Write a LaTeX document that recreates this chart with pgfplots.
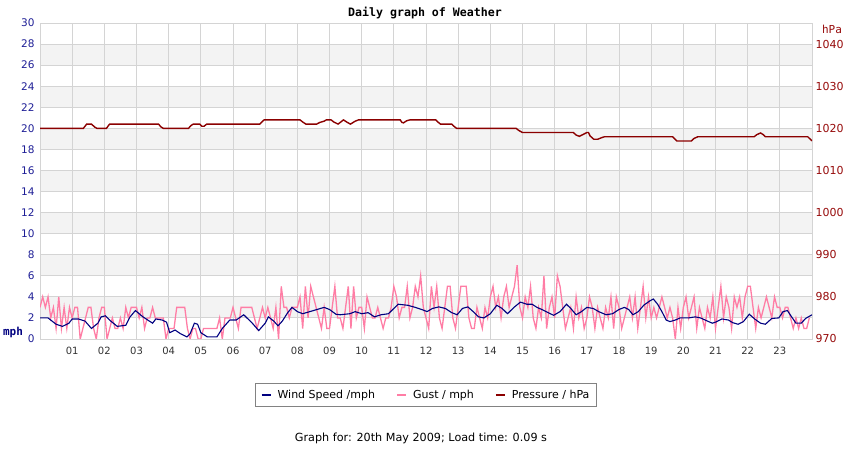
\documentclass[border=0pt]{standalone}
\usepackage{pgfplots}
\pgfplotsset{compat=1.18}
\usepackage{fontspec}
\setmainfont{DejaVu Sans}
\setmonofont{DejaVu Sans Mono}
\definecolor{tickblue}{RGB}{30,30,150}
\definecolor{windnavy}{RGB}{0,0,128}
\definecolor{gustpink}{RGB}{255,125,165}
\definecolor{presred}{RGB}{139,0,0}
\definecolor{labred}{RGB}{150,10,10}
\definecolor{gridgray}{RGB}{212,212,212}
\definecolor{bandgray}{RGB}{243,243,243}
\definecolor{legframe}{RGB}{130,130,130}
\begin{document}
\begin{tikzpicture}[x=1bp,y=1bp]
\useasboundingbox (0,0) rectangle (850,450);
% alternating bands (left axis units 2-4, 6-8, ... 26-28)
\foreach \v in {2,6,10,14,18,22,26} {
  \fill[bandgray] (40,{111+\v*316/30}) rectangle (812,{111+(\v+2)*316/30});
}
\begin{axis}[
  at={(40bp,111bp)}, anchor=south west, scale only axis,
  width=772bp, height=316bp,
  xmin=0, xmax=1440, ymin=0, ymax=30,
  xtick={60,120,...,1380},
  xticklabels={01,02,03,04,05,06,07,08,09,10,11,12,13,14,15,16,17,18,19,20,21,22,23},
  ytick={0,2,...,30},
  grid=major,
  major grid style={draw=gridgray, line width=0.9bp},
  axis line style={draw=gridgray, line width=0.9bp},
  major tick length=0pt,
  /pgf/number format/assume math mode=true,
  yticklabel style={font=\fontsize{10.5bp}{12bp}\selectfont, text=tickblue, xshift=-2bp},
  xticklabel style={font=\fontsize{10bp}{12bp}\selectfont, text=black!80, yshift=-5bp},
  legend columns=3,
  legend style={at={(0.5,-0.177)}, anchor=center, draw=legframe, line width=0.8bp,
    font=\fontsize{11bp}{13bp}\selectfont, inner xsep=5bp, inner ysep=4.5bp,
    /tikz/every odd column/.append style={column sep=4bp},
    /tikz/every even column/.append style={column sep=19bp}},
  legend image code/.code={\draw[#1, line width=2bp] (0bp,0bp) -- (9bp,0bp);},
]
\addplot[gustpink, line width=1.3bp, forget plot] coordinates {
(0,3)(5,4)(10,3)(15,4)(20,2)(25,3)(30,1)(35,4)(40,1)(45,3)(50,1)(55,3)
(60,2)(65,3)(70,3)(75,0)(80,1)(85,2)(90,3)(95,3)(100,1)(105,0)(110,2)(115,3)
(120,3)(125,0)(130,1)(135,2)(140,1)(145,1)(150,2)(155,1)(160,3)(165,2)(170,3)(175,3)
(180,3)(185,2)(190,3)(195,1)(200,2)(205,2)(210,3)(215,2)(220,2)(225,2)(230,2)(235,0)
(240,1)(245,1)(250,1)(255,3)(260,3)(265,3)(270,3)(275,1)(280,0)(285,1)(290,1)(295,0)
(300,0)(305,1)(310,1)(315,1)(320,1)(325,1)(330,1)(335,2)(340,0)(345,2)(350,2)(355,2)
(360,3)(365,2)(370,1)(375,3)(380,3)(385,3)(390,3)(395,3)(400,2)(405,1)(410,2)(415,3)
(420,2)(425,3)(430,2)(435,1)(440,3)(445,0)(450,5)(455,3)(460,3)(465,2)(470,3)(475,3)
(480,3)(485,4)(490,1)(495,5)(500,2)(505,5)(510,4)(515,3)(520,2)(525,1)(530,3)(535,1)
(540,1)(545,3)(550,5)(555,2)(560,2)(565,1)(570,3)(575,5)(580,1)(585,5)(590,2)(595,3)
(600,3)(605,1)(610,4)(615,3)(620,2)(625,2)(630,3)(635,2)(640,1)(645,2)(650,2)(655,3)
(660,5)(665,4)(670,2)(675,3)(680,3)(685,5)(690,2)(695,3)(700,5)(705,4)(710,6)(715,3)
(720,2)(725,1)(730,5)(735,3)(740,5)(745,2)(750,1)(755,3)(760,5)(765,5)(770,2)(775,1)
(780,3)(785,5)(790,5)(795,5)(800,2)(805,1)(810,1)(815,3)(820,2)(825,1)(830,3)(835,2)
(840,4)(845,5)(850,3)(855,4)(860,2)(865,4)(870,5)(875,3)(880,4)(885,5)(890,7)(895,3)
(900,2)(905,4)(910,3)(915,5)(920,2)(925,1)(930,3)(935,2)(940,6)(945,1)(950,3)(955,4)
(960,2)(965,6)(970,5)(975,3)(980,1)(985,2)(990,3)(995,1)(1000,4)(1005,2)(1010,3)(1015,1)
(1020,2)(1025,4)(1030,3)(1035,1)(1040,3)(1045,2)(1050,1)(1055,3)(1060,2)(1065,4)(1070,1)(1075,4)
(1080,3)(1085,1)(1090,2)(1095,3)(1100,4)(1105,2)(1110,4)(1115,1)(1120,3)(1125,5)(1130,2)(1135,4)
(1140,2)(1145,3)(1150,2)(1155,3)(1160,4)(1165,3)(1170,2)(1175,3)(1180,2)(1185,0)(1190,3)(1195,1)
(1200,3)(1205,4)(1210,2)(1215,3)(1220,4)(1225,1)(1230,3)(1235,2)(1240,1)(1245,3)(1250,2)(1255,4)
(1260,1)(1265,3)(1270,5)(1275,2)(1280,4)(1285,3)(1290,1)(1295,4)(1300,3)(1305,4)(1310,2)(1315,4)
(1320,5)(1325,5)(1330,3)(1335,1)(1340,3)(1345,2)(1350,3)(1355,4)(1360,3)(1365,2)(1370,4)(1375,3)
(1380,3)(1385,2)(1390,3)(1395,3)(1400,2)(1405,1)(1410,2)(1415,1)(1420,2)(1425,1)(1430,1)(1435,2)
};
\addplot[windnavy, line width=1.1bp, forget plot] coordinates {
(0,2.0)(15,2.0)(30,1.4)(42,1.2)(54,1.5)(60,1.9)(72,1.9)(84,1.7)(96,1.0)(108,1.5)
(114,2.1)(122,2.2)(132,1.7)(144,1.2)(160,1.3)(168,2.1)(178,2.7)(192,2.1)(204,1.7)(210,1.5)
(216,1.9)(228,1.8)(236,1.6)(242,0.6)(252,0.85)(262,0.5)(274,0.2)(280,0.5)(288,1.5)(294,1.4)
(300,0.6)(312,0.2)(330,0.2)(340,1.0)(354,1.8)(366,1.8)(380,2.3)(396,1.5)(408,0.8)(420,1.5)
(426,2.1)(436,1.7)(444,1.25)(452,1.7)(462,2.5)(470,3.0)(480,2.6)(490,2.4)(510,2.7)(530,3.0)
(540,2.8)(552,2.35)(560,2.3)(578,2.4)(588,2.6)(600,2.4)(612,2.5)(624,2.1)(636,2.3)(650,2.4)
(660,2.9)(668,3.3)(686,3.2)(700,3.0)(712,2.8)(722,2.6)(732,2.9)(744,3.05)(756,2.9)(768,2.5)
(778,2.3)(788,2.9)(798,3.05)(808,2.6)(818,2.1)(828,2.0)(840,2.4)(852,3.2)(862,2.9)(872,2.4)
(884,3.0)(896,3.5)(908,3.3)(918,3.3)(927,3.0)(936,2.8)(948,2.5)(958,2.25)(970,2.6)(982,3.3)
(990,2.9)(1000,2.3)(1010,2.6)(1020,3.0)(1032,2.9)(1042,2.6)(1056,2.3)(1068,2.4)(1080,2.8)(1090,3.0)
(1098,2.8)(1106,2.3)(1116,2.6)(1126,3.2)(1137,3.6)(1144,3.8)(1152,3.3)(1160,2.6)(1168,1.8)(1175,1.65)
(1185,1.8)(1194,2.0)(1210,2.0)(1222,2.1)(1232,2.0)(1245,1.7)(1254,1.5)(1260,1.6)(1272,1.9)(1284,1.8)
(1292,1.55)(1302,1.4)(1312,1.65)(1323,2.35)(1333,1.9)(1344,1.5)(1353,1.4)(1365,1.95)(1378,2.0)(1386,2.6)
(1394,2.7)(1402,2.1)(1410,1.5)(1420,1.5)(1428,1.95)(1440,2.3)
};
\addlegendimage{windnavy}
\addlegendentry{Wind Speed /mph}
\addlegendimage{gustpink}
\addlegendentry{Gust / mph}
\addlegendimage{presred}
\addlegendentry{Pressure / hPa}
\end{axis}
\begin{axis}[
  at={(40bp,111bp)}, anchor=south west, scale only axis,
  width=772bp, height=316bp,
  xmin=0, xmax=1440, ymin=970, ymax=1045,
  axis x line=none, axis y line*=right,
  y axis line style={draw=none},
  ytick={970,980,...,1040},
  major tick length=0pt,
  /pgf/number format/assume math mode=true,
  /pgf/number format/set thousands separator={},
  yticklabel style={font=\fontsize{11bp}{12bp}\selectfont, text=labred},
]
\addplot[presred, line width=1.4bp] coordinates {
(0,1020)(81,1020)(87,1021)(96,1021)(102,1020.3)(106,1020)(124,1020)(128,1020.7)(130,1021)
(221,1021)(226,1020.3)(230,1020)(277,1020)(282,1020.7)(286,1021)(298,1021)(302,1020.5)(306,1020.5)(311,1021)
(410,1021)(414,1021.5)(418,1022)(485,1022)(490,1021.5)(496,1021)(516,1021)(522,1021.4)(530,1021.7)(534,1022)
(543,1022)(548,1021.5)(556,1021)(566,1022)(572,1021.5)(579,1021)(588,1021.7)(594,1022)
(672,1022)(675,1021.4)(678,1021.3)(684,1021.8)(690,1022)(738,1022)(742,1021.5)(747,1021)
(768,1021)(772,1020.5)(777,1020)(888,1020)(893,1019.5)(900,1019)(995,1019)(1000,1018.4)(1006,1018.1)
(1014,1018.6)(1020,1019)(1023,1019)(1026,1018.2)(1033,1017.4)(1040,1017.4)(1048,1017.8)(1053,1018)
(1180,1018)(1184,1017.5)(1188,1017)(1215,1017)(1220,1017.6)(1227,1018)(1332,1018)(1337,1018.5)
(1344,1018.9)(1349,1018.5)(1353,1018)(1432,1018)(1440,1017)
};
\end{axis}
\node[font=\ttfamily\bfseries\fontsize{11.6bp}{13bp}\selectfont] at (425,437) {Daily graph of Weather};
\node[font=\ttfamily\bfseries\fontsize{11bp}{12bp}\selectfont, text=windnavy] at (13,118) {mph};
\node[font=\ttfamily\fontsize{11bp}{12bp}\selectfont, text=labred] at (832,421) {hPa};
\node[font=\fontsize{11.2bp}{13bp}\selectfont] at (421,12) {Graph for: 20th May 2009; Load time: 0.09 s};
\end{tikzpicture}
\end{document}
